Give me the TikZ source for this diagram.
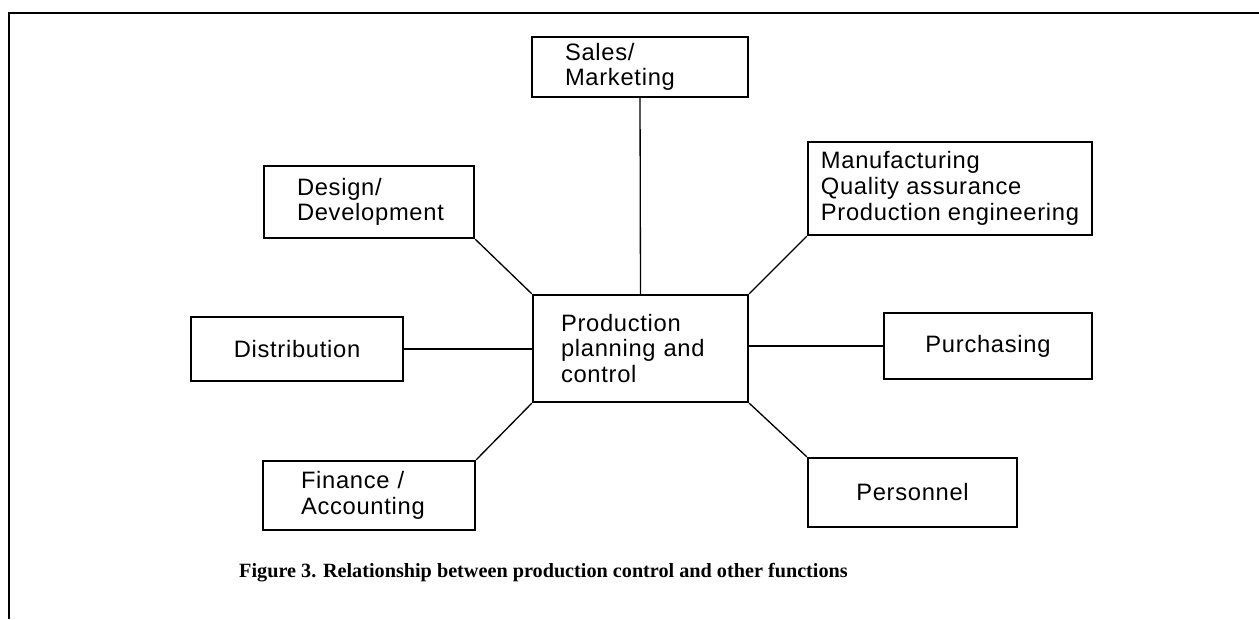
\documentclass[tikz,border=0pt]{standalone}
\usepackage{fontspec}
\newfontfamily\unitfont[LetterSpace=3]{Liberation Sans}
\newfontfamily\capfont{Liberation Serif}
\usetikzlibrary{positioning}

\tikzset{
  unit/.style={draw, rectangle, line width=1.3pt, inner sep=0pt,
    font={\unitfont\fontsize{13.5}{14.6}\selectfont}},
  unitl/.style={unit, align=left, inner xsep=0.66cm},
  link/.style={line width=0.75pt},
}

\begin{document}
\begin{tikzpicture}

\def\W{25.18};
\def\H{12.38};

\def\xl{7.38}; % left column
\def\xm{12.81}; % middle
\def\xr{19.0}; % right column

\useasboundingbox (0,0) rectangle (\W,\H);

% frame (cut)
\draw[line width=0.8pt] (\W,12.12) -- (0.18,12.12) -- (0.18,0);

\node[unitl, inner xsep=0.56cm, text width=3.18cm, minimum height=2.14cm] (ppc) at (\xm,5.41) {Production\\planning and\\control};

\node[unitl, text width=3.0cm, minimum height=1.2cm] (sales) at (12.8,11.04) {Sales/\\Marketing};
\node[unitl, text width=2.88cm, minimum height=1.44cm] (design) at (\xl,8.34) {Design/\\Development};
\node[unit, minimum width=5.68cm, minimum height=1.86cm, align=left] (manuf) at (\xr,8.61) {Manufacturing\\Quality assurance\\Production engineering};
\node[unit, minimum width=4.24cm, minimum height=1.28cm] (distr) at (5.94,5.40) {Distribution};
\node[unit, minimum width=4.16cm, minimum height=1.32cm] (purch) at (19.76,5.46) {Purchasing};
\node[unitl, inner xsep=0.76cm, text width=2.72cm, minimum height=1.38cm] (finance) at (\xl,2.47) {Finance /\\Accounting};
\node[unit, minimum width=4.18cm, minimum height=1.38cm] (pers) at (18.25,2.53) {Personnel};

\draw[link] (sales.south) -- (ppc.north);
\draw[link] (design.south east) -- (ppc.north west);
\draw[link] (manuf.south west) -- (ppc.north east);
\draw[link] (distr.east) -- (ppc.west |- distr.east);
\draw[link] (purch.west) -- (ppc.east |- purch.west);
\draw[link] (finance.north east) -- (ppc.south west);
\draw[link] (pers.north west) -- (ppc.south east);

\node[anchor=base, font={\capfont\bfseries\fontsize{11.5}{13}\selectfont}] (cap) at (10.87,0.84) {Figure 3. Relationship between production control and other functions};

\end{tikzpicture}
\end{document}
